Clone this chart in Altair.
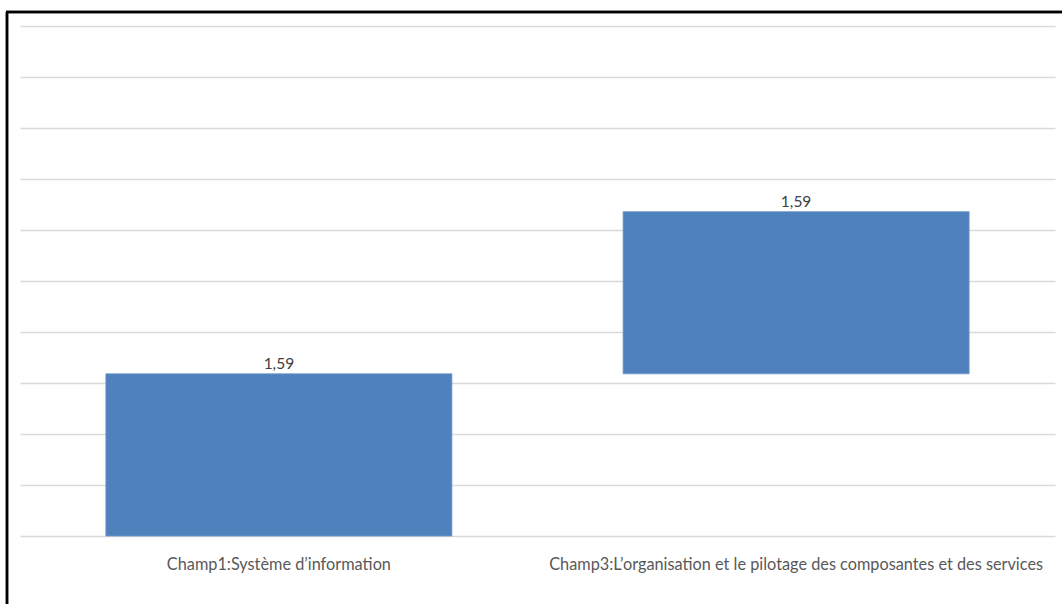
import altair as alt
import pandas as pd

categories = ["Champ1:Système d\u2019information",
              "Champ3:L\u2019organisation et le pilotage des composantes et des services"]
values = [1.59, 1.59]
labels = ["1,59", "1,59"]

ends = pd.Series(values).cumsum()
starts = ends - pd.Series(values)
df = pd.DataFrame({"cat": categories, "start": starts, "end": ends, "label": labels})

FONT = "Lato"

x_enc = alt.X("cat:N", sort=categories, title=None,
              scale=alt.Scale(paddingInner=0.331, paddingOuter=0.166),
              axis=alt.Axis(labelAngle=0, labelFont=FONT, labelFontSize=16.3,
                            labelColor="#595959", ticks=False, domain=False, grid=False,
                            labelPadding=20, labelLimit=600))
y_scale = alt.Scale(domain=[0, 5])

bars = alt.Chart(df).mark_bar(color="#4F81BD", stroke="#6E98CC", strokeWidth=0.8).encode(
    x=x_enc,
    y=alt.Y("start:Q", scale=y_scale, title=None,
            axis=alt.Axis(values=[i * 0.5 for i in range(11)], labels=False, ticks=False,
                          domain=False, gridColor="#D9D9D9", gridWidth=1.5)),
    y2="end:Q",
)

text = alt.Chart(df).mark_text(font=FONT, fontSize=15.5, color="#404040",
                               baseline="bottom", dy=-2).encode(
    x=alt.X("cat:N", sort=categories),
    y=alt.Y("end:Q", scale=y_scale),
    text="label:N",
)

border_left = alt.Chart(df).mark_rule(color="black", strokeWidth=2.5).encode(
    x=alt.value(-13), y=alt.value(-14), y2=alt.value(600))
border_top = alt.Chart(df).mark_rule(color="black", strokeWidth=2.5).encode(
    x=alt.value(-14), x2=alt.value(1050), y=alt.value(-14))

chart = alt.layer(bars, text, border_left, border_top).properties(
    width=1035, height=510,
    background="white",
    autosize=alt.AutoSizeParams(type="none"),
    padding={"left": 20, "top": 26, "right": 7, "bottom": 68},
).configure_view(strokeWidth=0, stroke="transparent")

chart.save("out.html", embed_options={"renderer": "svg", "actions": False})
